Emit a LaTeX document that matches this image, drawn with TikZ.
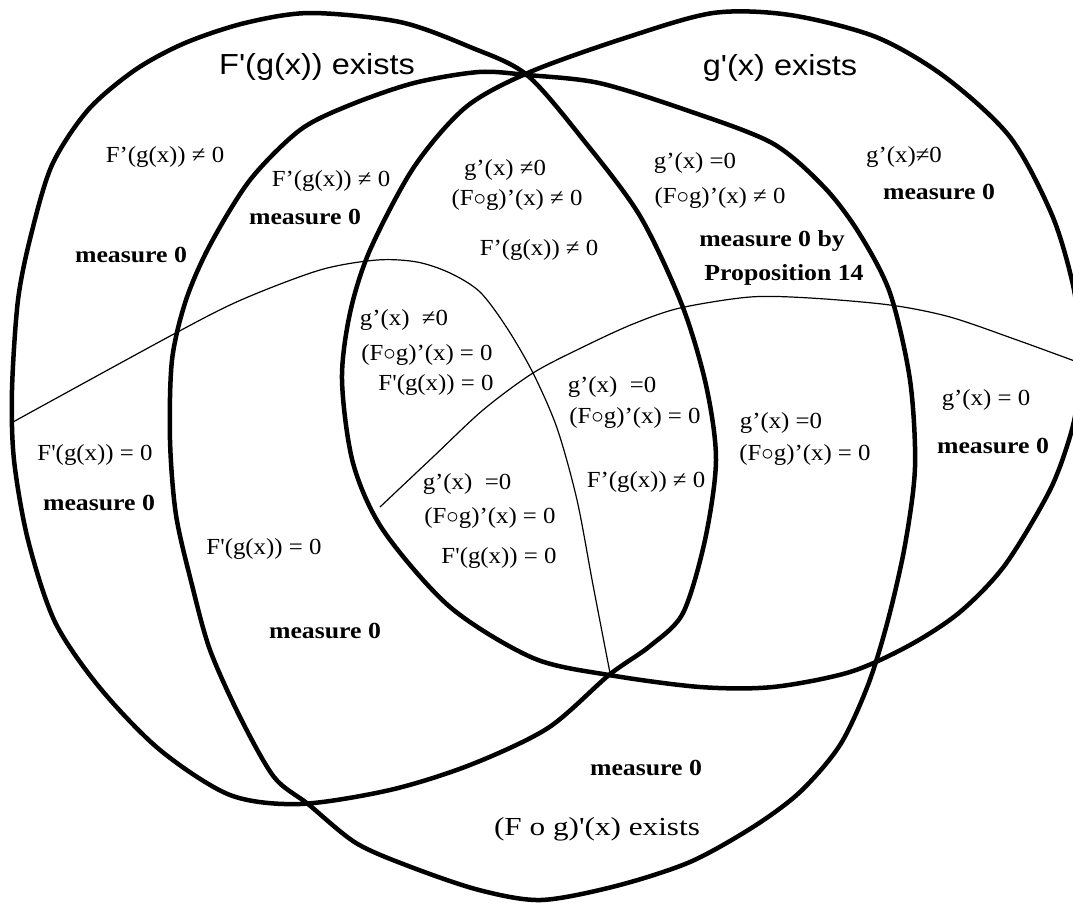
\documentclass[tikz,border=0pt]{standalone}
\usepackage{fontspec}
\newfontfamily\titlefont[Ligatures=TeXOff,FakeStretch=1.12]{Liberation Sans}
\newfontfamily\regfont[Ligatures=TeXOff,FakeStretch=1.08]{Liberation Serif}
\newfontfamily\mfont[Ligatures=TeXOff,FakeStretch=1.12]{Liberation Serif}
\newfontfamily\botfont[Ligatures=TeXOff,FakeStretch=1.2]{Liberation Serif}
\newcommand{\cmp}{\ensuremath{\circ}}
\tikzset{
  bigcurve/.style={line width=4.5pt, line join=round},
  thincurve/.style={line width=1.2pt},
  title/.style={inner sep=0pt, font=\titlefont\fontsize{29}{29}\selectfont},
  reg/.style={inner sep=0pt, font=\regfont\fontsize{23}{23}\selectfont},
  meas/.style={inner sep=0pt, font=\mfont\bfseries\fontsize{23}{23}\selectfont},
  bottomlbl/.style={inner sep=0pt, font=\botfont\fontsize{26}{26}\selectfont},
}
\begin{document}
\begin{tikzpicture}[x=1pt,y=-1pt]
\useasboundingbox (0,0) rectangle (1073,902);
\clip (0,0) rectangle (1073,902);
% F'(g(x)) exists
\draw[bigcurve] plot[smooth cycle] coordinates {(310,13) (400,22) (470,47) (527,75) (585,142) (640,216) (682,305) (706,385) (716,460) (705,540) (683,613) (650,646) (609,675) (548,728) (470,765) (390,790) (300,804) (230,795) (160,750) (100,688) (55,622) (28,540) (14,460) (12,390) (18,300) (31,235) (52,165) (88,110) (135,70) (185,43) (245,23)};
% g'(x) exists
\draw[bigcurve] plot[smooth cycle] coordinates {(530,72) (625,38) (713,13) (790,15) (876,37) (945,77) (1010,137) (1052,215) (1073,285) (1080,340) (1079,390) (1071,433) (1050,490) (1005,565) (960,612) (910,645) (850,672) (773,687) (700,687) (609,675) (533,658) (450,607) (383,530) (353,463) (342,380) (350,313) (370,250) (414,167) (466,107)};
% (F o g)'(x) exists
\draw[bigcurve] plot[smooth cycle] coordinates {(527,75) (599,83) (686,110) (772,143) (824,187) (859,233) (890,293) (910,380) (915,467) (905,545) (888,620) (868,685) (840,745) (800,792) (753,827) (690,862) (616,886) (541,900) (479,890) (411,867) (356,843) (308,804) (274,777) (240,717) (210,650) (192,585) (176,515) (170,440) (172,360) (186,300) (210,245) (250,180) (300,130) (350,105) (414,83) (479,72)};
% thin curves
\draw[thincurve] plot[smooth] coordinates {(13,422) (172,335) (241,300) (320,270) (377,260) (417,262) (450,273) (480,292) (507,328) (533,373) (557,428) (577,500) (593,585) (610,673)};
\draw[thincurve] plot[smooth] coordinates {(380,507) (433,457) (483,410) (533,373) (583,347) (633,324) (680,308) (750,297) (810,298) (890,305) (950,317) (1017,340) (1080,363)};
% titles
\node[title] (t1) at (317,67) {F'(g(x)) exists};
\node[title] (t2) at (780,68) {g'(x) exists};
% left region
\node[reg] (t3) at (165,157) {F’(g(x)) ≠ 0};
\node[meas] (t6) at (131,255) {measure 0};
\node[reg] (t29) at (95,455) {F'(g(x)) = 0};
\node[meas] (t30) at (99,503) {measure 0};
% band between L and B
\node[reg] (t4) at (331,181) {F’(g(x)) ≠ 0};
\node[meas] (t5) at (305,217) {measure 0};
\node[reg] (t31) at (264,549) {F'(g(x)) = 0};
\node[meas] (t32) at (325,631) {measure 0};
% top of centre lens
\node[reg] (t7) at (505,170) {g’(x) ≠0};
\node[reg] (t8) at (517,200) {(F\cmp g)’(x) ≠ 0};
\node[reg] (t9) at (539,250) {F’(g(x)) ≠ 0};
% g' region inside B
\node[reg] (t10) at (695,163) {g’(x) =0};
\node[reg] (t11) at (720,198) {(F\cmp g)’(x) ≠ 0};
\node[meas] (t12) at (772,241) {measure 0 by};
\node[meas] (t13) at (784,275) {Proposition 14};
% right outer
\node[reg] (t14) at (904,157) {g’(x)≠0};
\node[meas] (t15) at (939,192) {measure 0};
\node[reg] (t27) at (986,400) {g’(x) = 0};
\node[meas] (t28) at (993,446) {measure 0};
% centre
\node[reg] (t16) at (404,320) {g’(x)\ \ ≠0};
\node[reg] (t17) at (427,355) {(F\cmp g)’(x) = 0};
\node[reg] (t18) at (436,385) {F'(g(x)) = 0};
\node[reg] (t19) at (612,387) {g’(x)\ \ =0};
\node[reg] (t20) at (635,418) {(F\cmp g)’(x) = 0};
\node[reg] (t21) at (646,482) {F’(g(x)) ≠ 0};
\node[reg] (t22) at (467,484) {g’(x)\ \ =0};
\node[reg] (t23) at (490,518) {(F\cmp g)’(x) = 0};
\node[reg] (t24) at (499,558) {F'(g(x)) = 0};
\node[reg] (t25) at (781,423) {g’(x) =0};
\node[reg] (t26) at (805,455) {(F\cmp g)’(x) = 0};
% bottom
\node[meas] (t33) at (646,768) {measure 0};
\node[bottomlbl] (t34) at (597,829) {(F o g)'(x) exists};
\end{tikzpicture}
\end{document}
